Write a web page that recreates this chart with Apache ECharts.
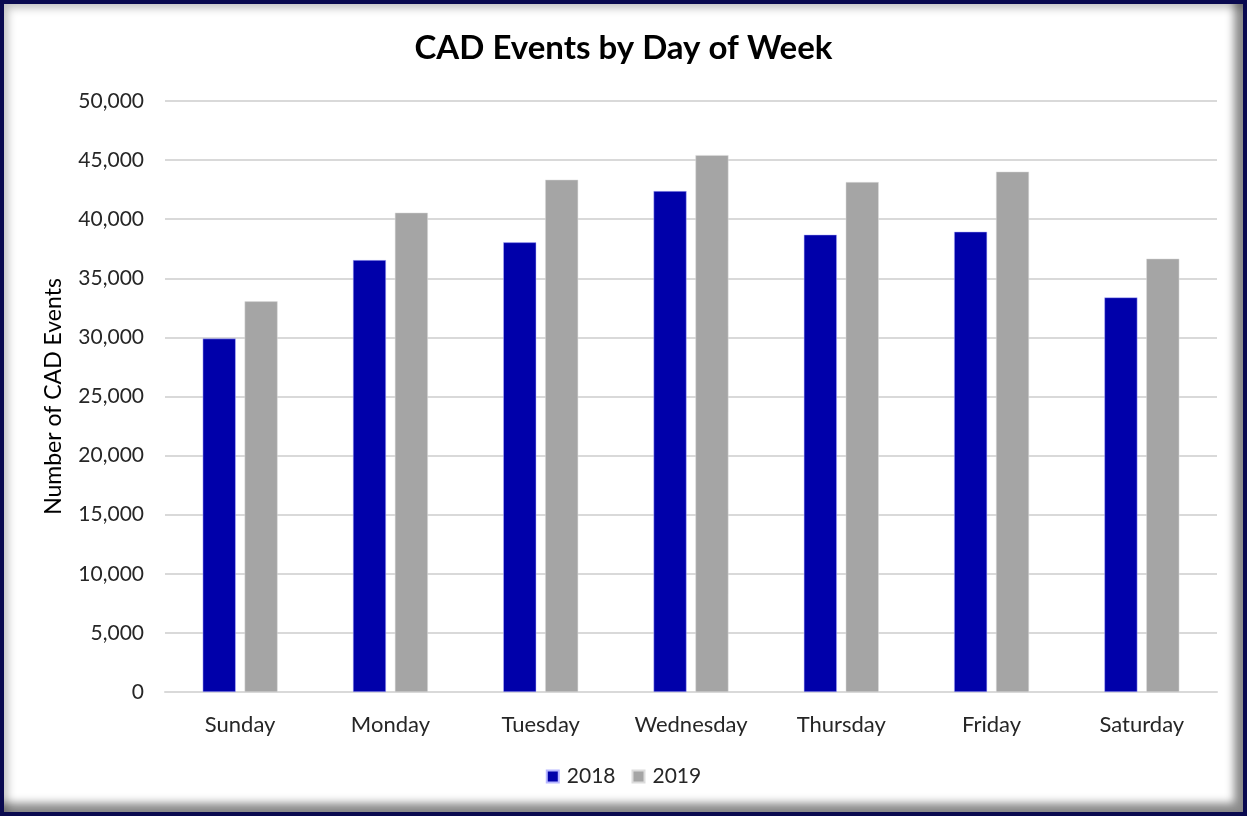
<!DOCTYPE html>
<html>
<head>
<meta charset="utf-8">
<script src="https://cdn.jsdelivr.net/npm/echarts@6/dist/echarts.min.js"></script>
<style>
  html, body { margin: 0; padding: 0; background: #fff; }
  #frame {
    position: relative;
    width: 1247px; height: 816px;
    box-sizing: border-box;
    border: 4px solid #0a0a50;
    box-shadow: inset -9px -9px 9px rgba(0,0,0,0.45), inset 4px 4px 8px rgba(0,0,0,0.25);
  }
  #main { position: absolute; left: -4px; top: -4px; width: 1247px; height: 816px; }
</style>
</head>
<body>
<div id="frame"><div id="main"></div></div>
<script>
  const days = ['Sunday', 'Monday', 'Tuesday', 'Wednesday', 'Thursday', 'Friday', 'Saturday'];
  const events2018 = [29900, 36540, 38040, 42380, 38690, 38940, 33380];
  const events2019 = [33050, 40550, 43340, 45420, 43140, 44020, 36660];

  const font = 'Lato, "Open Sans", sans-serif';
  const chart = echarts.init(document.getElementById('main'), null, { renderer: 'canvas' });
  chart.setOption({
    animation: false,
    backgroundColor: 'transparent',
    title: {
      text: 'CAD Events by Day of Week',
      left: 'center',
      top: 27,
      textStyle: { fontFamily: font, fontSize: 33, fontWeight: 'bold', color: '#000' }
    },
    legend: {
      bottom: 24,
      left: 'center',
      itemWidth: 12,
      itemHeight: 12,
      itemGap: 16,
      icon: 'rect',
      textStyle: { fontFamily: font, fontSize: 21, color: '#262626', padding: [0, 0, 0, 3] },
      data: ['2018', '2019']
    },
    grid: { left: 165, right: 30, top: 101, bottom: 124 },
    xAxis: {
      type: 'category',
      data: days,
      axisTick: { show: false },
      axisLine: { lineStyle: { color: '#d9d9d9', width: 2 } },
      axisLabel: { fontFamily: font, fontSize: 22, color: '#262626', margin: 22 }
    },
    yAxis: {
      type: 'value',
      min: 0,
      max: 50000,
      interval: 5000,
      name: 'Number of CAD Events',
      nameLocation: 'middle',
      nameGap: 100,
      nameTextStyle: { fontFamily: font, fontSize: 23, color: '#000' },
      axisLabel: {
        fontFamily: font, fontSize: 21, color: '#262626', margin: 21,
        formatter: v => v.toLocaleString('en-US')
      },
      splitLine: { lineStyle: { color: '#d9d9d9', width: 2 } }
    },
    series: [
      {
        name: '2018',
        type: 'bar',
        data: events2018,
        barWidth: 33,
        barGap: '27%',
        itemStyle: { color: '#0000aa', borderColor: '#b8b8ff', borderWidth: 0.5 }
      },
      {
        name: '2019',
        type: 'bar',
        data: events2019,
        barWidth: 33,
        itemStyle: { color: '#a5a5a5', borderColor: '#dcdcdc', borderWidth: 0.5 }
      }
    ]
  });
</script>
</body>
</html>
